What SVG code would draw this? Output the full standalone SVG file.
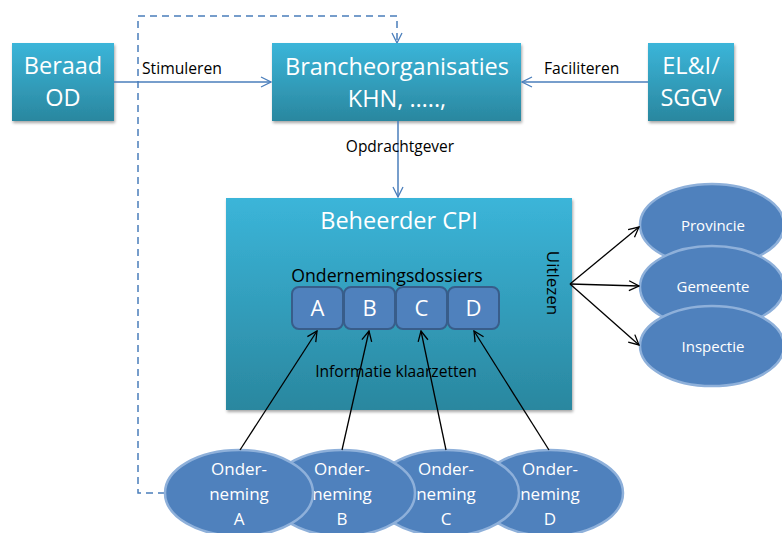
<svg xmlns="http://www.w3.org/2000/svg" width="782" height="533" viewBox="0 0 782 533">
<defs>
<linearGradient id="teal" x1="0" y1="0" x2="0" y2="1">
<stop offset="0" stop-color="#3bb5d9"/>
<stop offset="1" stop-color="#2a879f"/>
</linearGradient>
<filter id="sh" x="-10%" y="-10%" width="125%" height="130%">
<feDropShadow dx="1" dy="2" stdDeviation="1.5" flood-color="#000" flood-opacity="0.35"/>
</filter>
<marker id="ab" viewBox="0 0 12 12" refX="11" refY="6" markerWidth="12" markerHeight="12" markerUnits="userSpaceOnUse" orient="auto">
<path d="M1,1 L11,6 L1,11" fill="none" stroke="#4a7ebb" stroke-width="1.3"/>
</marker>
<marker id="ak" viewBox="0 0 12 12" refX="11" refY="6" markerWidth="12" markerHeight="12" markerUnits="userSpaceOnUse" orient="auto">
<path d="M1,1 L11,6 L1,11" fill="none" stroke="#000" stroke-width="1.3"/>
</marker>
<style>
.box{fill:url(#teal);filter:url(#sh)}
.wt{fill:#fff;font-family:"Open Sans","Liberation Sans",Arial,sans-serif;text-anchor:middle}
.bt{fill:#000;font-family:"Open Sans","Liberation Sans",Arial,sans-serif}
.ell{fill:#4f81bd;stroke:#8eb0da;stroke-width:2.5}
.dos{fill:#4f81bd;stroke:#385d8a;stroke-width:2}
.bl{stroke:#4a7ebb;stroke-width:1.5;fill:none;marker-end:url(#ab)}
.bk{stroke:#000;stroke-width:1.3;fill:none;marker-end:url(#ak)}
.t1{font-size:23.5px}
</style>
</defs>

<g id="connectors-back">
<path d="M165,493 H138 V16 H397 V43" fill="none" stroke="#4a7ebb" stroke-width="1.5" stroke-dasharray="7,5" marker-end="url(#ab)"/>
</g>

<g id="beraad">
<rect class="box" x="12" y="43" width="102" height="78"/>
<text class="wt t1" x="63" y="74">Beraad</text>
<text class="wt t1" x="63" y="106">OD</text>
</g>

<g id="branche">
<rect class="box" x="272" y="43" width="249" height="78"/>
<text class="wt t1" x="397" y="75">Brancheorganisaties</text>
<text class="wt t1" x="397" y="107">KHN, …..,</text>
</g>

<g id="eli">
<rect class="box" x="648" y="43" width="86" height="78"/>
<text class="wt t1" x="691" y="74">EL&amp;I/</text>
<text class="wt t1" x="691" y="106">SGGV</text>
</g>

<g id="beheerder">
<rect class="box" x="226" y="198" width="346" height="212"/>
<text class="wt t1" x="399" y="229">Beheerder CPI</text>
<text class="bt" x="387" y="282" font-size="17.7" text-anchor="middle">Ondernemingsdossiers</text>
<text class="bt" x="396" y="377" font-size="15.6" text-anchor="middle">Informatie klaarzetten</text>
<text class="bt" font-size="17" text-anchor="middle" transform="translate(547,283) rotate(90)">Uitlezen</text>
</g>

<g id="dossier-a"><rect class="dos" x="292" y="287" width="51" height="42" rx="7"/><text class="wt" x="317.5" y="316" font-size="22">A</text></g>
<g id="dossier-b"><rect class="dos" x="344" y="287" width="51" height="42" rx="7"/><text class="wt" x="369.5" y="316" font-size="22">B</text></g>
<g id="dossier-c"><rect class="dos" x="396" y="287" width="51" height="42" rx="7"/><text class="wt" x="421.5" y="316" font-size="22">C</text></g>
<g id="dossier-d"><rect class="dos" x="448" y="287" width="51" height="42" rx="7"/><text class="wt" x="473.5" y="316" font-size="22">D</text></g>

<g id="provincie"><ellipse class="ell" cx="712" cy="225" rx="72" ry="41"/><text class="wt" x="713" y="231" font-size="15">Provincie</text></g>
<g id="gemeente"><ellipse class="ell" cx="712" cy="287" rx="72" ry="41"/><text class="wt" x="713" y="292" font-size="15">Gemeente</text></g>
<g id="inspectie"><ellipse class="ell" cx="712" cy="346" rx="72" ry="40"/><text class="wt" x="713" y="352" font-size="15">Inspectie</text></g>

<g id="onderneming-d"><ellipse class="ell" cx="550" cy="493" rx="73" ry="43"/><text class="wt" x="550" y="475" font-size="17">Onder-</text><text class="wt" x="550" y="500" font-size="17">neming</text><text class="wt" x="550" y="525" font-size="17">D</text></g>
<g id="onderneming-c"><ellipse class="ell" cx="446" cy="493" rx="73" ry="43"/><text class="wt" x="446" y="475" font-size="17">Onder-</text><text class="wt" x="446" y="500" font-size="17">neming</text><text class="wt" x="446" y="525" font-size="17">C</text></g>
<g id="onderneming-b"><ellipse class="ell" cx="342" cy="493" rx="73" ry="43"/><text class="wt" x="342" y="475" font-size="17">Onder-</text><text class="wt" x="342" y="500" font-size="17">neming</text><text class="wt" x="342" y="525" font-size="17">B</text></g>
<g id="onderneming-a"><ellipse class="ell" cx="239" cy="493" rx="74" ry="43"/><text class="wt" x="239" y="475" font-size="17">Onder-</text><text class="wt" x="239" y="500" font-size="17">neming</text><text class="wt" x="239" y="525" font-size="17">A</text></g>

<g id="connectors">
<line class="bl" x1="114" y1="82" x2="271" y2="82"/>
<text class="bt" x="142" y="74" font-size="15.7">Stimuleren</text>
<line class="bl" x1="648" y1="82" x2="522" y2="82"/>
<text class="bt" x="544" y="74" font-size="15.7">Faciliteren</text>
<line class="bl" x1="398" y1="121" x2="398" y2="197"/>
<text class="bt" x="400" y="152" font-size="15.5" text-anchor="middle">Opdrachtgever</text>
<line class="bk" x1="570" y1="284" x2="639" y2="227"/>
<line class="bk" x1="570" y1="284" x2="639" y2="286"/>
<line class="bk" x1="570" y1="284" x2="639" y2="345"/>
<line class="bk" x1="240" y1="450" x2="317" y2="331"/>
<line class="bk" x1="342" y1="450" x2="369" y2="331"/>
<line class="bk" x1="446" y1="450" x2="421" y2="331"/>
<line class="bk" x1="549" y1="450" x2="474" y2="331"/>
</g>
</svg>
